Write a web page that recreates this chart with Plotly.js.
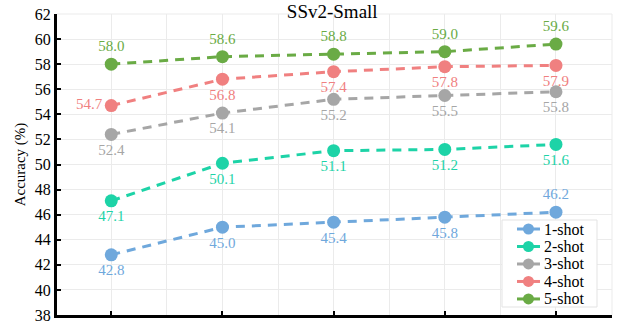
<!DOCTYPE html>
<html>
<head>
<meta charset="utf-8">
<script src="https://cdn.plot.ly/plotly-3.0.1.min.js"></script>
<style>
  html, body { margin: 0; padding: 0; background: #fff; }
  #chart { width: 621px; height: 325px; }
</style>
</head>
<body>
<div id="chart"></div>
<script>
// Training steps on the x axis
const steps = [0, 50, 100, 150, 200];

// Accuracy (%) for each shot setting
const shot1 = [42.8, 45.0, 45.4, 45.8, 46.2];
const shot2 = [47.1, 50.1, 51.1, 51.2, 51.6];
const shot3 = [52.4, 54.1, 55.2, 55.5, 55.8];
const shot4 = [54.7, 56.8, 57.4, 57.8, 57.9];
const shot5 = [58.0, 58.6, 58.8, 59.0, 59.6];

const seriesNames = ['1-shot', '2-shot', '3-shot', '4-shot', '5-shot'];
const seriesValues = [shot1, shot2, shot3, shot4, shot5];
const seriesColors = ['#6fa8dc', '#1dd3a7', '#a6a6a6', '#f08080', '#6aab45'];

// Where each value label sits relative to its marker
const labelPositions = [
  ['bottom center', 'bottom center', 'bottom center', 'bottom center', 'top center'],
  ['bottom center', 'bottom center', 'bottom center', 'bottom center', 'bottom center'],
  ['bottom center', 'bottom center', 'bottom center', 'bottom center', 'bottom center'],
  ['middle left', 'bottom center', 'bottom center', 'bottom center', 'bottom center'],
  ['top center', 'top center', 'top center', 'top center', 'top center']
];

const FONT = '"Liberation Serif", "Times New Roman", serif';

const traces = seriesNames.map((name, i) => ({
  x: steps,
  y: seriesValues[i],
  name: name,
  type: 'scatter',
  mode: 'lines+markers+text',
  text: seriesValues[i].map(v => v.toFixed(1)),
  textposition: labelPositions[i],
  textfont: { family: FONT, size: 15, color: seriesColors[i] },
  line: { color: seriesColors[i], width: 3, dash: '9px,7px' },
  marker: { color: seriesColors[i], size: 13 },
  cliponaxis: false,
  showlegend: false
}));

// Compact legend box in the lower right corner (paper coordinates)
const legendBox = { x0: 0.8018, x1: 0.973, y0: 0.0266, y1: 0.3156 };
const legendRowTop = 0.2857;      // centre of the first row
const legendRowStep = 0.0581;     // distance between rows
const legendLine = { x0: 0.8288, x1: 0.8703, xm: 0.8495 };
const legendTextX = 0.8739;

const shapes = [
  // light frame along the top and right edges of the plot area
  { type: 'line', xref: 'paper', yref: 'paper', x0: 0, x1: 1, y0: 1, y1: 1, line: { color: '#ebebeb', width: 1 } },
  { type: 'line', xref: 'paper', yref: 'paper', x0: 1, x1: 1, y0: 0, y1: 1, line: { color: '#ebebeb', width: 1 } },
  { type: 'rect', xref: 'paper', yref: 'paper', x0: legendBox.x0, x1: legendBox.x1, y0: legendBox.y0, y1: legendBox.y1,
    fillcolor: '#ffffff', line: { color: '#e3e3e3', width: 1 }, layer: 'above' }
];
const annotations = [];

seriesNames.forEach((name, i) => {
  const yc = legendRowTop - i * legendRowStep;
  shapes.push({ type: 'line', xref: 'paper', yref: 'paper', x0: legendLine.x0, x1: legendLine.x1, y0: yc, y1: yc,
    line: { color: seriesColors[i], width: 3 }, layer: 'above' });
  shapes.push({ type: 'circle', xref: 'paper', yref: 'paper', xsizemode: 'pixel', ysizemode: 'pixel',
    xanchor: legendLine.xm, yanchor: yc, x0: -5.5, x1: 5.5, y0: -5.5, y1: 5.5,
    fillcolor: seriesColors[i], line: { width: 0 }, layer: 'above' });
  annotations.push({ xref: 'paper', yref: 'paper', x: legendTextX, y: yc, xanchor: 'left', yanchor: 'middle',
    text: name, showarrow: false, font: { family: FONT, size: 16, color: '#000000' } });
});

const layout = {
  width: 621,
  height: 325,
  margin: { l: 57, r: 9, t: 14, b: 10 },
  paper_bgcolor: '#ffffff',
  plot_bgcolor: '#ffffff',
  font: { family: FONT, color: '#000000' },
  title: {
    text: 'SSv2-Small',
    font: { family: FONT, size: 19, color: '#000000' },
    x: 0.535, xanchor: 'center',
    y: 0.965, yanchor: 'middle'
  },
  xaxis: {
    range: [-24.4, 225.2],
    tickvals: steps,
    ticks: 'inside',
    ticklen: 4,
    tickwidth: 2,
    tickcolor: '#000000',
    ticklabelstandoff: 4,
    tickfont: { family: FONT, size: 16, color: '#000000' },
    showline: true,
    linecolor: '#000000',
    linewidth: 3,
    showgrid: true,
    gridcolor: '#ebebeb',
    gridwidth: 1,
    minor: { dtick: 25, tick0: 0, showgrid: true, gridcolor: '#ebebeb', gridwidth: 1, ticks: '' },
    zeroline: false,
    fixedrange: true
  },
  yaxis: {
    range: [38, 62],
    dtick: 2,
    tick0: 38,
    ticks: 'inside',
    ticklen: 4,
    tickwidth: 2,
    tickcolor: '#000000',
    tickfont: { family: FONT, size: 16, color: '#000000' },
    showline: true,
    linecolor: '#000000',
    linewidth: 3,
    showgrid: true,
    gridcolor: '#ebebeb',
    gridwidth: 1,
    zeroline: false,
    title: { text: 'Accuracy (%)', font: { family: FONT, size: 15, color: '#000000' }, standoff: 6 },
    fixedrange: true
  },
  shapes: shapes,
  annotations: annotations,
  showlegend: false
};

Plotly.newPlot('chart', traces, layout, { displayModeBar: false, staticPlot: true });
</script>
</body>
</html>
